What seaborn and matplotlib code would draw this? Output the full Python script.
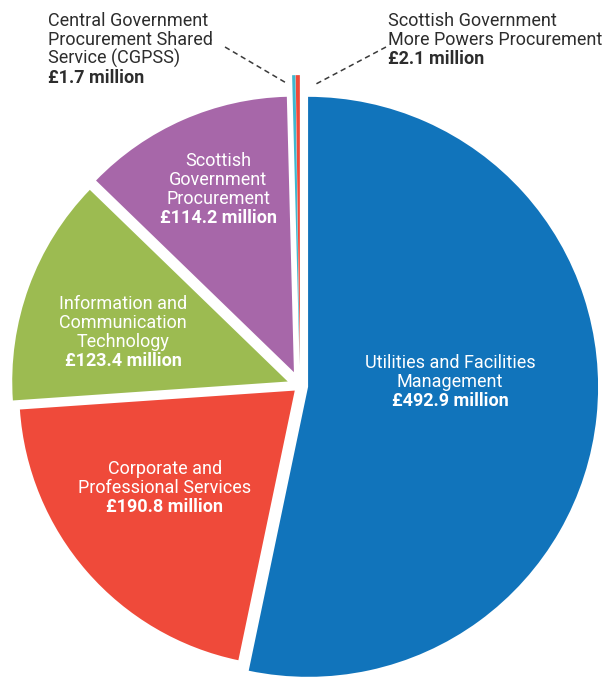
"""
Procurement spend by category - exploded pie chart.
"""

import matplotlib
matplotlib.use("Agg")
import matplotlib.pyplot as plt
import seaborn as sns

# Spend by category (GBP million), clockwise from 12 o'clock
categories = [
    "Utilities and Facilities Management",
    "Corporate and Professional Services",
    "Information and Communication Technology",
    "Scottish Government Procurement",
    "Central Government Procurement Shared Service (CGPSS)",
    "Scottish Government More Powers Procurement",
]
spend = [492.9, 190.8, 123.4, 114.2, 1.7, 2.1]
label_lines = [
    ["Utilities and Facilities", "Management"],
    ["Corporate and", "Professional Services"],
    ["Information and", "Communication", "Technology"],
    ["Scottish", "Government", "Procurement"],
    ["Central Government", "Procurement Shared", "Service (CGPSS)"],
    ["Scottish Government", "More Powers Procurement"],
]

colours = ["#1174bb", "#ef4a3a", "#9cbb51", "#a767a9", "#3fb7cf", "#ef4a3a"]
explode = [0.028, 0.024, 0.045, 0.052, 0.072, 0.072]
radii = [1.0, 0.95, 0.95, 0.95, 1.0, 1.0]

# Layout in pixels (figure is 615 x 683)
W, H = 615, 683
CX, CY, R = 300, 386, 290
LINE_STEP = 19
# first-line centre of each label block; inner ones centred, outer ones left aligned
label_pos = [(450, 362), (165, 468), (123, 303), (218, 160), (48, 20), (388, 20)]
leaders = [((225, 47), (288, 84)), ((386, 47), (316, 84))]


def px(x, y):
    """Converts pixel position to data coordinates."""
    return (x - CX) / R, (CY - y) / R


def draw_block(ax, x, y, lines, amount, inner):
    """Writes a label block line by line, amount in bold on the last line."""
    colour = "white" if inner else "#2d2d2d"
    ha = "center" if inner else "left"
    rows = [(t, "normal") for t in lines] + [(amount, "bold")]
    for i, (text, weight) in enumerate(rows):
        tx, ty = px(x, y + i * LINE_STEP + 6)
        ax.text(tx, ty, text, ha=ha, va="baseline", color=colour,
                fontsize=13, fontweight=weight)


sns.set_theme(style="white")
plt.rcParams["font.family"] = ["Roboto", "DejaVu Sans"]

fig = plt.figure(figsize=(W / 100, H / 100), dpi=100)
ax = fig.add_axes([0, 0, 1, 1])

wedges, _ = ax.pie(
    spend,
    colors=colours,
    startangle=90,
    counterclock=False,
    explode=explode,
    wedgeprops=dict(linewidth=0),
)
for w, r in zip(wedges, radii):
    w.set_radius(r)

for i, (lines, value) in enumerate(zip(label_lines, spend)):
    x, y = label_pos[i]
    draw_block(ax, x, y, lines, f"£{value:.1f} million", inner=i < 4)

for (x0, y0), (x1, y1) in leaders:
    a, b = px(x0, y0), px(x1, y1)
    ax.plot([a[0], b[0]], [a[1], b[1]], color="#3a3a3a", lw=1.1,
            linestyle=(0, (3.5, 2.5)))

ax.set_xlim(-CX / R, (W - CX) / R)
ax.set_ylim((CY - H) / R, CY / R)
ax.set_aspect("auto")
ax.axis("off")

plt.savefig("out.png", dpi=100, facecolor="white")
print("Saved: out.png")
